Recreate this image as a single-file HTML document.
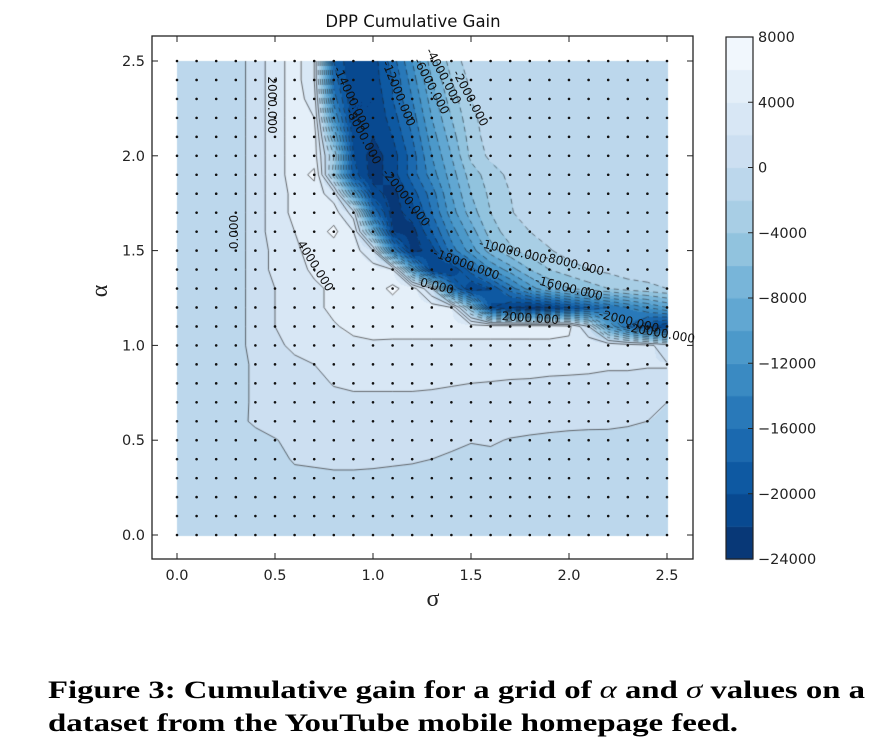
<!DOCTYPE html>
<html><head><meta charset="utf-8">
<style>
html,body{margin:0;padding:0;background:#fff;}
#wrap{position:relative;width:880px;height:752px;overflow:hidden;}
canvas{position:absolute;left:0;top:0;}
svg{position:absolute;left:0;top:0;}
</style></head>
<body>
<div id="wrap">
<canvas id="cv" width="880" height="752"></canvas>
<svg id="sv" width="880" height="752" xmlns="http://www.w3.org/2000/svg"></svg>
</div>
<script>
// sigma values (columns) and alpha values (rows, top row = alpha 2.5)
const sigmaVals = [0,0.1,0.2,0.3,0.4,0.5,0.6,0.7,0.8,0.9,1.0,1.1,1.2,1.3,1.4,1.5,1.6,1.7,1.8,1.9,2.0,2.1,2.2,2.3,2.4,2.5];
const alphaVals = [2.5,2.4,2.3,2.2,2.1,2.0,1.9,1.8,1.7,1.6,1.5,1.4,1.3,1.2,1.1,1.0,0.9,0.8,0.7,0.6,0.5,0.4,0.3,0.2,0.1,0.0];
// cumulative gain in thousands
const gain = [
[-1,-1,-1,-1,1,3,5,2,-18,-22,-21,-17,-12,-7,-3,-1,-1,-1,-1,-1,-1,-1,-1,-1,-1,-1],
[-1,-1,-1,-1,1,3,5,2,-17,-22,-21,-18,-13,-8,-4,-1.5,-1,-1,-1,-1,-1,-1,-1,-1,-1,-1],
[-1,-1,-1,-1,1,3,5,3,-15,-22,-22,-18,-14,-9,-5,-2,-1,-1,-1,-1,-1,-1,-1,-1,-1,-1],
[-1,-1,-1,-1,1,3,5,4,-12,-22,-22,-19,-15,-10,-6,-2.5,-1,-1,-1,-1,-1,-1,-1,-1,-1,-1],
[-1,-1,-1,-1,1,3,5,5,-8,-21,-22,-20,-16,-11,-7,-3,-1,-1,-1,-1,-1,-1,-1,-1,-1,-1],
[-1,-1,-1,-1,1,3,5,5,-4,-20,-23,-21,-17,-12,-8,-3.5,-1.5,-1,-1,-1,-1,-1,-1,-1,-1,-1],
[-1,-1,-1,-1,1,3,5,6.5,-5,-19,-23,-21,-17,-13,-9,-5,-3,-1.5,-1,-1,-1,-1,-1,-1,-1,-1],
[-1,-1,-1,-1,1,3,4.5,5,3,-10,-21,-23,-19,-15,-10,-6,-3.5,-2,-1,-1,-1,-1,-1,-1,-1,-1],
[-1,-1,-1,-1,1,3,4.5,5,5,1,-16,-23,-21,-16,-11,-7,-4,-2.2,-1,-1,-1,-1,-1,-1,-1,-1],
[-1,-1,-1,-1,1,3,4,5,6.5,4,-8,-22,-23,-18,-13,-9,-5,-3,-2,-1,-1,-1,-1,-1,-1,-1],
[-1,-1,-1,-1,1,2.5,3.5,5,5,5,2,-14,-23,-21,-15,-11,-7,-4.5,-3,-2.2,-1,-1,-1,-1,-1,-1],
[-1,-1,-1,-1,1,2.5,3,4.5,5,5,5,4,-10,-22,-22,-17,-12,-9,-6,-4,-3,-2,-1.5,-1,-1,-1],
[-1,-1,-1,-1,1,2,3,3.5,4.5,5,5,6.5,5,0,-16,-22,-20,-15,-11,-8,-6,-5,-4,-3,-2.5,-2],
[-1,-1,-1,-1,1,2,3,3.5,4.5,5,5,5,5,5,4,-6,-20,-22,-23,-22,-20,-18,-16,-14,-12,-10],
[-1,-1,-1,-1,1,2,3,3.2,3.8,4.5,5,5,5,5,5,5,5,5,5,5,4.5,0,-10,-16,-20,-22],
[-1,-1,-1,-1,1,1.5,2.5,3,3.5,3.5,3.6,3.5,3.5,3.5,3.5,3.5,3.5,3.5,3.5,3.5,3.5,3.5,3.5,3,2.5,1],
[-1,-1,-1,-1,0.5,1,1.5,2,2.5,2.8,3,3,3,3,3,3,3,2.8,2.6,2.5,2.4,2.3,2.2,2.2,2.1,2.1],
[-1,-1,-1,-1,0.5,1,1.2,1.5,2.1,2.3,2.3,2.3,2.3,2.2,2.1,2,1.9,1.8,1.8,1.7,1.7,1.7,1.6,1.6,1.6,1.6],
[-1,-1,-1,-1,0.5,1,1.2,1.3,1.5,1.6,1.6,1.6,1.6,1.6,1.5,1.5,1.5,1.4,1.4,1.3,1.3,1.3,1.2,1.2,1.1,0],
[-1,-1,-1,-0.5,0.3,0.8,1,1,1.2,1.2,1.2,1.2,1.2,1.2,1,1,1,0.8,0.8,0.6,0.4,0.4,0.3,0.2,0,-0.8],
[-1,-1,-1,-1,-0.6,-0.1,0.5,0.6,0.7,0.7,0.7,0.7,0.6,0.5,0.3,0.1,0.2,-0.1,-0.3,-0.4,-0.4,-0.5,-0.4,-0.5,-0.5,-0.8],
[-1,-1,-1,-1,-1,-0.6,0.2,0.3,0.4,0.4,0.4,0.3,0.2,0,-0.2,-0.5,-0.4,-0.6,-0.7,-0.8,-0.8,-0.8,-0.8,-0.8,-0.8,-0.9],
[-1,-1,-1,-1,-1,-1,-0.5,-0.4,-0.3,-0.3,-0.4,-0.5,-0.6,-0.8,-1,-1,-1,-1,-1,-1,-1,-1,-1,-1,-1,-1],
[-1,-1,-1,-1,-1,-1,-1,-1,-1,-1,-1,-1,-1,-1,-1,-1,-1,-1,-1,-1,-1,-1,-1,-1,-1,-1],
[-1,-1,-1,-1,-1,-1,-1,-1,-1,-1,-1,-1,-1,-1,-1,-1,-1,-1,-1,-1,-1,-1,-1,-1,-1,-1],
[-1,-1,-1,-1,-1,-1,-1,-1,-1,-1,-1,-1,-1,-1,-1,-1,-1,-1,-1,-1,-1,-1,-1,-1,-1,-1]
];
const levels = [-24,-22,-20,-18,-16,-14,-12,-10,-8,-6,-4,-2,0,2,4,6,8];
const xTicks = [0,0.5,1.0,1.5,2.0,2.5];
const yTicks = [0,0.5,1.0,1.5,2.0,2.5];
const cbTicks = [8000,4000,0,-4000,-8000,-12000,-16000,-20000,-24000];

// axes geometry
const X0=177, X1=667, Y0=535, Y1=61;
const xs = s => X0 + (s/2.5)*(X1-X0);
const ys = a => Y0 - (a/2.5)*(Y0-Y1);
const CB={x:726,w:27,top:37,bot:559};
const cbY = v => CB.bot - (v-(-24000))/32000*(CB.bot-CB.top);

const blues=[[247,251,255],[222,235,247],[198,219,239],[158,202,225],[107,174,214],[66,146,198],[33,113,181],[8,81,156],[8,48,107]];
function bluesAt(t){t=Math.max(0,Math.min(1,t));const p=t*8,i=Math.min(7,Math.floor(p)),f=p-i;
 return blues[i].map((c,k)=>Math.round(c+(blues[i+1][k]-c)*f));}
function binColor(v){let k=Math.floor((v+24)/2);k=Math.max(0,Math.min(15,k));
 const mid=levels[k]+1;const t=(mid+24)/32;return bluesAt(1-t);}

const nR=alphaVals.length,nC=sigmaVals.length;
function valAt(s,a){
 const gx=s/(sigmaVals[1]-sigmaVals[0]);const gr=(alphaVals[0]-a)/(alphaVals[0]-alphaVals[1]);
 let c=Math.min(nC-2,Math.max(0,Math.floor(gx))),r=Math.min(nR-2,Math.max(0,Math.floor(gr)));
 const fx=gx-c,fy=gr-r;
 return gain[r][c]*(1-fx)*(1-fy)+gain[r][c+1]*fx*(1-fy)+gain[r+1][c]*(1-fx)*fy+gain[r+1][c+1]*fx*fy;}

const cv=document.getElementById('cv'),ctx=cv.getContext('2d');
// filled contour
const img=ctx.createImageData(880,752);
for(let py=Math.round(Y1);py<=Math.round(Y0);py++){for(let px=X0;px<=X1;px++){
 const s=(px-X0)/(X1-X0)*2.5,a=(Y0-py)/(Y0-Y1)*2.5;const col=binColor(valAt(s,a));
 const o=(py*880+px)*4;img.data[o]=col[0];img.data[o+1]=col[1];img.data[o+2]=col[2];img.data[o+3]=255;}}
for(let i=0;i<img.data.length;i+=4){if(img.data[i+3]===0){img.data[i]=img.data[i+1]=img.data[i+2]=255;img.data[i+3]=255;}}
ctx.putImageData(img,0,0);
// contour lines (marching squares)
function interp(p1,p2,v1,v2,L){const t=(L-v1)/(v2-v1);return [p1[0]+(p2[0]-p1[0])*t,p1[1]+(p2[1]-p1[1])*t];}
ctx.lineWidth=0.9;
for(let li=1;li<levels.length-1;li++){const L=levels[li];
 ctx.strokeStyle= L>=0?'rgba(40,40,40,0.75)':'rgba(30,30,30,0.6)';
 ctx.setLineDash(L<0?[5,4]:[]);ctx.beginPath();
 for(let r=0;r<nR-1;r++)for(let c=0;c<nC-1;c++){
  const P=[[xs(sigmaVals[c]),ys(alphaVals[r])],[xs(sigmaVals[c+1]),ys(alphaVals[r])],[xs(sigmaVals[c+1]),ys(alphaVals[r+1])],[xs(sigmaVals[c]),ys(alphaVals[r+1])]];
  const V=[gain[r][c],gain[r][c+1],gain[r+1][c+1],gain[r+1][c]];
  const pts=[];for(let e=0;e<4;e++){const v1=V[e],v2=V[(e+1)%4];if((v1<L)!==(v2<L))pts.push(interp(P[e],P[(e+1)%4],v1,v2,L));}
  if(pts.length===2){ctx.moveTo(pts[0][0],pts[0][1]);ctx.lineTo(pts[1][0],pts[1][1]);}
  else if(pts.length===4){ctx.moveTo(pts[0][0],pts[0][1]);ctx.lineTo(pts[1][0],pts[1][1]);ctx.moveTo(pts[2][0],pts[2][1]);ctx.lineTo(pts[3][0],pts[3][1]);}
 }
 ctx.stroke();}
ctx.setLineDash([]);
// colorbar bins
for(let k=0;k<16;k++){const c=binColor(levels[k]+1);ctx.fillStyle='rgb('+c.join(',')+')';
 const yA=cbY(levels[k+1]*1000),yB=cbY(levels[k]*1000);ctx.fillRect(CB.x,yA,CB.w,yB-yA+0.5);}

// SVG overlay
const NS='http://www.w3.org/2000/svg',sv=document.getElementById('sv');
function mk(tag,attrs,txt){const e=document.createElementNS(NS,tag);for(const k in attrs)e.setAttribute(k,attrs[k]);if(txt!==undefined)e.textContent=txt;sv.appendChild(e);return e;}
const tickFont='"DejaVu Sans","Liberation Sans",sans-serif';
// grid dots
for(const a of alphaVals)for(const s of sigmaVals){const d=mk('circle',{cx:xs(s),cy:ys(a),r:1.3,fill:'#111'});

}
// frame
let f=mk('rect',{x:152,y:36,width:541,height:523,fill:'none',stroke:'#222','stroke-width':1.3});


xTicks.forEach(t=>{const x=xs(t);mk('line',{x1:x,x2:x,y1:559,y2:553,stroke:'#222'});mk('line',{x1:x,x2:x,y1:36,y2:42,stroke:'#222'});
 const l=mk('text',{x:x,y:580,'font-family':tickFont,'font-size':14.5,'text-anchor':'middle',fill:'#222'},t.toFixed(1));
 
 });
yTicks.forEach(t=>{const y=ys(t);mk('line',{x1:152,x2:158,y1:y,y2:y,stroke:'#222'});mk('line',{x1:693,x2:687,y1:y,y2:y,stroke:'#222'});
 const l=mk('text',{x:145,y:y+5,'font-family':tickFont,'font-size':14.5,'text-anchor':'end',fill:'#222'},t.toFixed(1));
 
 });
let t1=mk('text',{x:413,y:27,'font-family':tickFont,'font-size':16.5,'text-anchor':'middle',fill:'#111'},'DPP Cumulative Gain');


let xl=mk('text',{x:433,y:606,'font-family':'"Liberation Serif",serif','font-size':24,'text-anchor':'middle',fill:'#222'},'σ');


let yl=mk('text',{x:0,y:0,'font-family':'"Liberation Serif",serif','font-size':24,'text-anchor':'middle',fill:'#222',transform:'translate(107,291) rotate(-90)'},'α');


// colorbar frame & ticks
let cbf=mk('rect',{x:CB.x,y:CB.top,width:CB.w,height:CB.bot-CB.top,fill:'none',stroke:'#222','stroke-width':1.2});


cbTicks.forEach(v=>{const y=cbY(v);mk('line',{x1:CB.x+CB.w,x2:CB.x+CB.w-5,y1:y,y2:y,stroke:'#222'});
 const l=mk('text',{x:CB.x+CB.w+5,y:y+5,'font-family':tickFont,'font-size':14.5,fill:'#222'},v<0?'\u2212'+Math.abs(v):String(v));
 
 });
// contour labels
const clabels=[['2000.000',268,105,90],['0.000',238,232,-90],['4000.000',312,268,58],['-14000.000',348,100,65],['-8000.000',360,138,62],
['-12000.000',395,95,68],['-6000.000',428,88,62],['-4000.000',440,78,62],['-2000.000',467,100,62],['-20000.000',403,200,52],
['-10000.000',512,255,14],['-8000.000',573,268,14],['-18000.000',465,268,20],['-16000.000',568,292,14],['0.000',436,290,14],
['2000.000',530,322,4],['-2000.000',628,325,14],['-20000.000',660,337,10]];
clabels.forEach(c=>{const l=mk('text',{x:0,y:0,'font-family':tickFont,'font-size':12,'text-anchor':'middle',fill:'#111',transform:'translate('+c[1]+','+c[2]+') rotate('+c[3]+')'},c[0]);
 
 });
// caption
let c1=mk('text',{x:48,y:698,'font-family':'"Liberation Serif",serif','font-size':25,'font-weight':'bold',fill:'#000',textLength:817,lengthAdjust:'spacingAndGlyphs'});
c1.innerHTML='Figure 3: Cumulative gain for a grid of <tspan font-style="italic" font-weight="normal">α</tspan> and <tspan font-style="italic" font-weight="normal">σ</tspan> values on a';


let c2=mk('text',{x:48,y:731,'font-family':'"Liberation Serif",serif','font-size':25,'font-weight':'bold',fill:'#000',textLength:690,lengthAdjust:'spacingAndGlyphs'},'dataset from the YouTube mobile homepage feed.');


</script>
</body></html>
